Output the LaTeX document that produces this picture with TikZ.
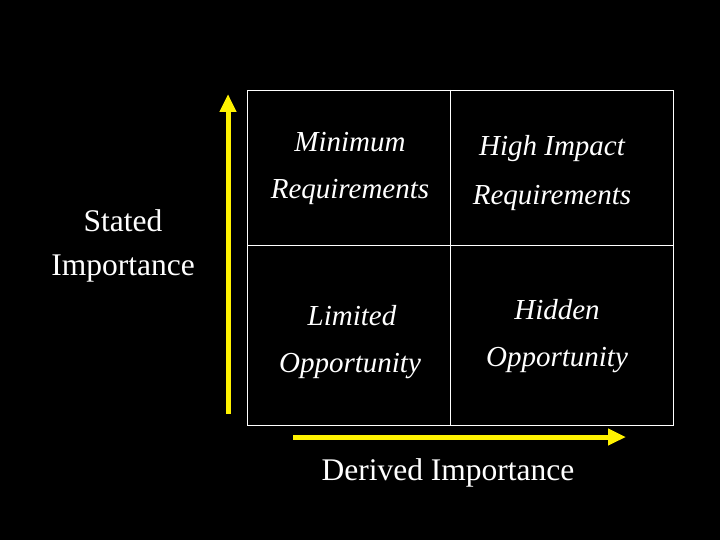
\documentclass[tikz,border=0pt]{standalone}
\usepackage{fontspec}
\setmainfont{Liberation Serif}
\usetikzlibrary{arrows.meta,positioning}
\begin{document}
\begin{tikzpicture}[x=1pt,y=-1pt,
	cell/.style={text=white,font=\fontsize{29}{32}\selectfont\itshape},
	axis/.style={text=white,font=\fontsize{31.5}{34}\selectfont},
	yarrow/.style={draw=yellow,line width=5pt,-{Triangle[length=18pt,width=16pt]}}]
	\fill[black] (0,0) rectangle (720,540);
	\useasboundingbox (0,0) rectangle (720,540);
	% grid
	\draw[white,line width=0.8pt] (247,90) rectangle (673,425);
	\draw[white,line width=0.8pt] (450,90) -- (450,425);
	\draw[white,line width=0.8pt] (247,245) -- (673,245);
	% quadrant labels
	\node[cell] (min1) at (350,142) {Minimum};
	\node[cell] (min2) at (350,192) {Requirements};
	\node[cell] (hi1) at (552,149) {High Impact};
	\node[cell] (hi2) at (552,198) {Requirements};
	\node[cell] (lim1) at (352,316) {Limited};
	\node[cell] (lim2) at (350,366) {Opportunity};
	\node[cell] (hid1) at (557,310) {Hidden};
	\node[cell] (hid2) at (557,360) {Opportunity};
	% axes
	\coordinate (ybot) at (228,414);
	\coordinate (ytop) at (228,94);
	\coordinate (xl) at (293,437);
	\coordinate (xr) at (626,437);
	\draw[yarrow] (ybot) -- (ytop);
	\draw[yarrow] (xl) -- (xr);
	\node[axis] (st1) at (123,221) {Stated};
	\node[axis] (st2) at (123,269) {Importance};
	\node[axis] (der) at (448,473) {Derived Importance};
\end{tikzpicture}
\end{document}
